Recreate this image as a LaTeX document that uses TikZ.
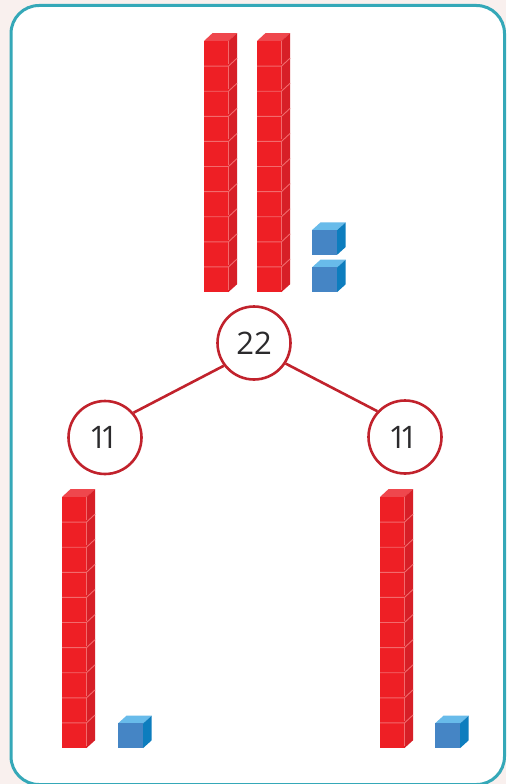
\documentclass[tikz,border=0pt]{standalone}
\usepackage{fontspec}
\setmainfont{Open Sans}
\usepackage{xcolor}
\usetikzlibrary{positioning,calc}
\definecolor{pageback}{HTML}{F9F0EE}
\definecolor{framecol}{HTML}{35A8B8}
\definecolor{ringcol}{HTML}{C1222C}
\definecolor{numcol}{HTML}{2B2A2C}
\definecolor{redfront}{HTML}{EE1F25}
\definecolor{redside}{HTML}{D71F27}
\definecolor{redtop}{HTML}{EF474D}
\definecolor{redline}{HTML}{F26A6C}
\definecolor{bluefront}{HTML}{4585C5}
\definecolor{blueside}{HTML}{0D7DBE}
\definecolor{bluetop}{HTML}{68BBEA}
\tikzset{
  numring/.style={circle,draw=ringcol,line width=2.6pt,fill=white,minimum size=73pt,inner sep=0pt,
    text=numcol,font=\fontsize{31}{31}\selectfont},
  linkline/.style={draw=ringcol,line width=2.6pt},
  redcube/.pic={
    \fill[redtop] (0,-25.1)--(8.5,-33)--(33,-33)--(24.5,-25.1)--cycle;
    \fill[redfront] (0,0) rectangle (24.5,-25.1);
    \fill[redside] (24.5,0)--(33,-7.7)--(33,-33)--(24.5,-25.1)--cycle;
    \draw[redline,line width=.5pt] (24.5,-2)--(24.5,-25.1);
  },
  redseam/.pic={
    \draw[redline,line width=.9pt] (0,0)--(24.5,0)--(33,-7.9);
  },
  bluecube/.pic={
    \fill[bluetop] (0,-24.6)--(8.5,-32.3)--(33.7,-32.3)--(25.2,-24.6)--cycle;
    \fill[bluefront] (0,0) rectangle (25.2,-24.6);
    \fill[blueside] (25.2,0)--(33.7,-7.7)--(33.7,-32.3)--(25.2,-24.6)--cycle;
  }
}
% one stack of ten, #1 = left edge, #2 = bottom edge
\newcommand{\tenstack}[2]{
  \foreach \k in {0,...,9}
    \pic at ({#1},{#2-25.1*\k}) {redcube};
  \foreach \k in {1,...,9}
    \pic at ({#1},{#2-25.1*\k}) {redseam};
}
\begin{document}
\begin{tikzpicture}[x=1pt,y=-1pt]
\useasboundingbox (0,0) rectangle (506,784);
\fill[pageback] (0,0) rectangle (506,784);
\begin{scope}
\clip (0,0) rectangle (506,784);
\draw[framecol,line width=3pt,fill=white,rounded corners=28pt] (11,5.5) rectangle (504.5,784.5);
\end{scope}

% tens and ones on top
\tenstack{204}{292}
\tenstack{257}{292}
\pic at (312,254.7) {bluecube};
\pic at (312,292) {bluecube};

% number bond
\node[numring] (whole) at (254,343) {22};
\node[numring] (partl) at (105,437.5) {\kern-3pt 1\kern-6.5pt 1};
\node[numring] (partr) at (405,437) {\kern-4pt 1\kern-6.5pt 1};
\draw[linkline] (whole.217)--(partl.41);
\draw[linkline] (whole.327)--(partr.137);

% the two halves
\tenstack{62}{748}
\pic at (118,748) {bluecube};
\tenstack{380}{748}
\pic at (435,748) {bluecube};
\end{tikzpicture}
\end{document}
